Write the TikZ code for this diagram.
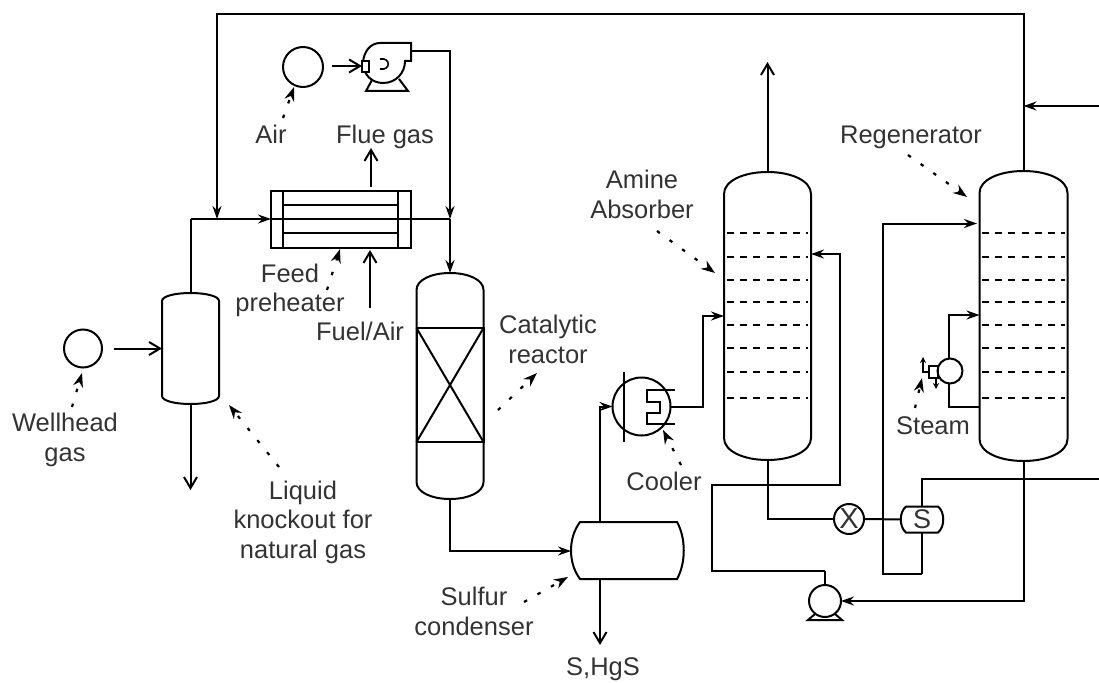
\documentclass[tikz,border=0pt]{standalone}
\usepackage{fontspec}
\setmainfont{Liberation Sans}
\usetikzlibrary{arrows.meta}
\definecolor{labelgray}{HTML}{333333}
\tikzset{
  pipe/.style={draw=black,line width=2pt,line join=miter},
  thinpipe/.style={draw=black,line width=1.6pt},
  flow/.style={pipe,-{Stealth[length=13pt,width=9pt]}},
  openflow/.style={pipe,-{Straight Barb[length=11pt,width=13pt,line width=2pt]}},
  callout/.style={draw=black,line width=2.2pt,dash pattern=on 3.5pt off 12pt,-{Stealth[length=14pt,width=10pt]}},
  tray/.style={draw=black,line width=2.1pt,dash pattern=on 7pt off 6.2pt},
  equip/.style={inner sep=0pt,outer sep=0pt,minimum width=#1},
  ball/.style={circle,draw=black,line width=2pt,inner sep=0pt,outer sep=0pt,minimum size=#1},
  lbl/.style={text=labelgray,anchor=base,align=center,inner sep=0pt,font=\fontsize{25.5}{29.5}\selectfont},
}
% #1 name, #2 cx, #3 top, #4 shoulder offset top, #5 bottom, #6 half width
\newcommand{\columnvessel}[6]{%
  \node[equip=#6*2pt,minimum height={(#5-#3)*1pt}] (#1) at (#2,{(#3+#5)/2}) {};
  \draw[pipe] ({#2-#6},{#3+#4}) .. controls ({#2-#6},{#3+0.4*#4}) and ({#2-0.55*#6},#3) .. (#2,#3)
     .. controls ({#2+0.55*#6},#3) and ({#2+#6},{#3+0.4*#4}) .. ({#2+#6},{#3+#4})
     -- ({#2+#6},{#5-#4})
     .. controls ({#2+#6},{#5-0.4*#4}) and ({#2+0.55*#6},#5) .. (#2,#5)
     .. controls ({#2-0.55*#6},#5) and ({#2-#6},{#5-0.4*#4}) .. ({#2-#6},{#5-#4}) -- cycle;
}
\begin{document}
\begin{tikzpicture}[x=1pt,y=-1pt]
\useasboundingbox (0,0) rectangle (1099,682);
% ---- equipment ----
\columnvessel{sep}{190.5}{293}{8}{404}{28.5}
\columnvessel{reac}{450}{273}{17}{499}{33.5}
\columnvessel{abs}{767.5}{172}{22}{460}{43.5}
\columnvessel{reg}{1023.5}{171}{22}{461}{44}
% reactor bed
\draw[pipe] (416.5,328) rectangle (483.5,442);
\draw[pipe] (416.5,328) -- (483.5,442) (483.5,328) -- (416.5,442);
% trays
\foreach \yy in {233.3,256.7,280,302,325,348,372,398}{
  \draw[tray] (727,\yy) -- (808,\yy);
  \draw[tray] (982,\yy) -- (1065,\yy);
}
% sources
\node[ball=38pt] (well) at (83,348.5) {};
\node[ball=40pt] (air) at (303,67) {};
% blower
\node[equip=49pt,minimum height=48pt] (blower) at (386.5,67) {};
\draw[pipe] (411,43) -- (380,43) .. controls (370,43) and (364,52) .. (363,62)
  .. controls (363,75) and (372,83) .. (383,83) .. controls (396,83) and (405,73) .. (405,61)
  -- (411,61) -- cycle;
\draw[pipe,fill=white] (362,61) rectangle (369,72);
\draw[thinpipe] (380,59) .. controls (391,57) and (391,71) .. (380,69);
\draw[pipe] (372,80) -- (366,91) -- (408,91) -- (399,79);
% preheater
\node[equip=140pt,minimum height=57pt] (heater) at (341,219.5) {};
\draw[pipe] (271,191) rectangle (411,248);
\draw[pipe] (283,191) -- (283,248) (398,191) -- (398,248);
\draw[pipe] (283,204.5) -- (398,204.5) (283,233) -- (398,233);
% condenser
\node[equip=112pt,minimum height=57pt] (cond) at (627,550.5) {};
\draw[pipe] (580,522) -- (677,522) .. controls (686,538) and (686,563) .. (677,579)
  -- (580,579) .. controls (568,563) and (568,538) .. (580,522) -- cycle;
% cooler
\node[ball=58pt] (cool) at (641.5,406.5) {};
\draw[pipe] (624,372) -- (624,442);
\draw[pipe] (675,389.5) -- (646.5,389.5) -- (646.5,402) -- (659.5,402) -- (659.5,413) -- (646.5,413) -- (646.5,424) -- (675,424);
% valve, S vessel, pump
\node[ball=30pt,text=labelgray,font=\fontsize{29}{29}\selectfont] (valve) at (849,519) {X};
\node[equip=42pt,minimum height=26pt,text=labelgray,font=\fontsize{27}{27}\selectfont] (sv) at (922,519.5) {S};
\draw[pipe] (906,506.5) -- (938,506.5) .. controls (945,512) and (945,527) .. (938,532.5)
  -- (906,532.5) .. controls (899,527) and (899,512) .. (906,506.5) -- cycle;
\node[ball=32pt] (pump) at (825,601) {};
\draw[pipe] (815,614) -- (808,620) -- (842,620) -- (835,614);
% reboiler
\node[ball=25pt] (reb) at (950,371) {};
\node[equip=9pt,minimum height=12pt,draw=black,line width=1.7pt] (rebbox) at (933.5,372) {};
% ---- junctions ----
\coordinate (fj) at (190.5,219);
\coordinate (topl) at (217,14);
\coordinate (topr) at (1023.5,14);
\coordinate (tap) at (217,219);
\coordinate (hin) at (271,219);
\coordinate (hout) at (411,219);
\coordinate (mix) at (450,219);
\coordinate (blout) at (411,51);
\coordinate (blc) at (450,51);
\coordinate (cb1) at (450,551);
\coordinate (cin) at (571,551);
\coordinate (ct) at (600,522);
\coordinate (cb) at (600,406.5);
\coordinate (cin2) at (612.5,406.5);
\coordinate (sout) at (600,579);
\coordinate (send) at (600,645);
\coordinate (cr) at (703,406.5);
\coordinate (cu) at (703,316);
\coordinate (absin) at (724,316);
\coordinate (absret) at (811,254);
\coordinate (ret1) at (840,254);
\coordinate (ret2) at (840,485);
\coordinate (ret3) at (712,485);
\coordinate (ret4) at (712,571);
\coordinate (ret5) at (825,571);
\coordinate (absb) at (767.5,519);
\coordinate (abstop) at (767.5,62);
\coordinate (lv1) at (882.5,223.5);
\coordinate (lv2) at (977,223.5);
\coordinate (lv3) at (882.5,574);
\coordinate (lv4) at (922,574);
\coordinate (sv1) at (922,479);
\coordinate (sv2) at (1099,479);
\coordinate (regb) at (1023.5,601);
\coordinate (regr1) at (949,315);
\coordinate (regr2) at (979.5,315);
\coordinate (regr3) at (949,407);
\coordinate (regr4) at (979.5,407);
\coordinate (refin) at (1099,106);
\coordinate (refj) at (1023.5,106);
\coordinate (flueS) at (371,187);
\coordinate (flueE) at (371,148);
\coordinate (fuelS) at (370,308);
\coordinate (fuelE) at (370,250);
\coordinate (sepin) at (162,348.5);
\coordinate (sepend) at (190.5,490);
\coordinate (wellout) at (114,348.5);
\coordinate (airout) at (332,66);
\coordinate (blin) at (362,66);
\coordinate (st1) at (923,372);
\coordinate (st2) at (923,357);
\coordinate (st3) at (936,378);
\coordinate (st4) at (936,389);
% ---- connectors ----
\draw[pipe] (sep.north) -- (fj);
\draw[flow] (fj) -- (hin);
\draw[flow] (reg.north) -- (topr) -- (topl) -- (tap);
\draw[pipe] (hout) -- (mix);
\draw[pipe] (hin) -- (hout);
\draw[flow] (blout) -- (blc) -- (mix);
\draw[flow] (mix) -- (reac.north);
\draw[openflow] (airout) -- (blin);
\draw[openflow] (wellout) -- (sepin);
\draw[openflow] (sep.south) -- (sepend);
\draw[openflow] (flueS) -- (flueE);
\draw[openflow] (fuelS) -- (fuelE);
\draw[flow] (reac.south) -- (cb1) -- (cin);
\draw[flow] (ct) -- (cb) -- (cin2);
\draw[openflow] (sout) -- (send);
\draw[flow] (cool.east) -- (cr) -- (cu) -- (absin);
\draw[openflow] (abs.north) -- (abstop);
\draw[flow] (ret5) -- (ret4) -- (ret3) -- (ret2) -- (ret1) -- (absret);
\draw[pipe] (pump.north) -- (ret5);
\draw[pipe] (abs.south) -- (absb) -- (valve.west);
\draw[pipe] (valve.east) -- (sv.west);
\draw[flow] (lv4) -- (lv3) -- (lv1) -- (lv2);
\draw[pipe] (sv.south) -- (lv4);
\draw[pipe] (sv.north) -- (sv1) -- (sv2);
\draw[flow] (reg.south) -- (regb) -- (pump.east);
\draw[flow] (refin) -- (refj);
\draw[flow] (reb.north -| regr1) -- (regr1) -- (regr2);
\draw[pipe] (reb.south -| regr3) -- (regr3) -- (regr4);
\draw[thinpipe,-{Stealth[length=6pt,width=6pt]}] (rebbox.west) -- (st1) -- (st2);
\draw[thinpipe,-{Stealth[length=6pt,width=6pt]}] (st3) -- (st4);
% ---- labels ----
\node[lbl] (lwell) at (65,461) {Wellhead\\gas};
\node[lbl] (lair) at (271,143) {Air};
\node[lbl] (lflue) at (385,143) {Flue gas};
\node[lbl] (lfeed) at (290,311.5) {Feed\\preheater};
\node[lbl] (lfuel) at (360,340) {Fuel/Air};
\node[lbl] (lliq) at (303,558) {Liquid\\knockout for\\natural gas};
\node[lbl] (lcat) at (548,363) {Catalytic\\reactor};
\node[lbl] (lcool) at (664,490) {Cooler};
\node[lbl] (lsul) at (474,635) {Sulfur\\condenser};
\node[lbl] (lsh) at (603,675) {S,HgS};
\node[lbl] (lam) at (642,218) {Amine\\Absorber};
\node[lbl] (lreg) at (911,143) {Regenerator};
\node[lbl] (lst) at (933,434) {Steam};
% ---- callouts ----
\coordinate (a1) at (72,407); \coordinate (a2) at (82,373);
\coordinate (b1) at (283,118); \coordinate (b2) at (294,87);
\coordinate (c1) at (327,290); \coordinate (c2) at (340,249);
\coordinate (d1) at (279,467); \coordinate (d2) at (229,405);
\coordinate (e1) at (498,410); \coordinate (e2) at (537,373);
\coordinate (f1) at (681,465); \coordinate (f2) at (663,430);
\coordinate (g1) at (524,602); \coordinate (g2) at (568,577);
\coordinate (h1) at (657,231); \coordinate (h2) at (715,273);
\coordinate (i1) at (908,155); \coordinate (i2) at (967,197);
\coordinate (j1) at (915,408); \coordinate (j2) at (922,378);
\foreach \p/\q in {a1/a2,b1/b2,c1/c2,d1/d2,e1/e2,f1/f2,g1/g2,h1/h2,i1/i2,j1/j2}{
  \draw[callout] (\p) -- (\q);
}
\end{tikzpicture}
\end{document}
